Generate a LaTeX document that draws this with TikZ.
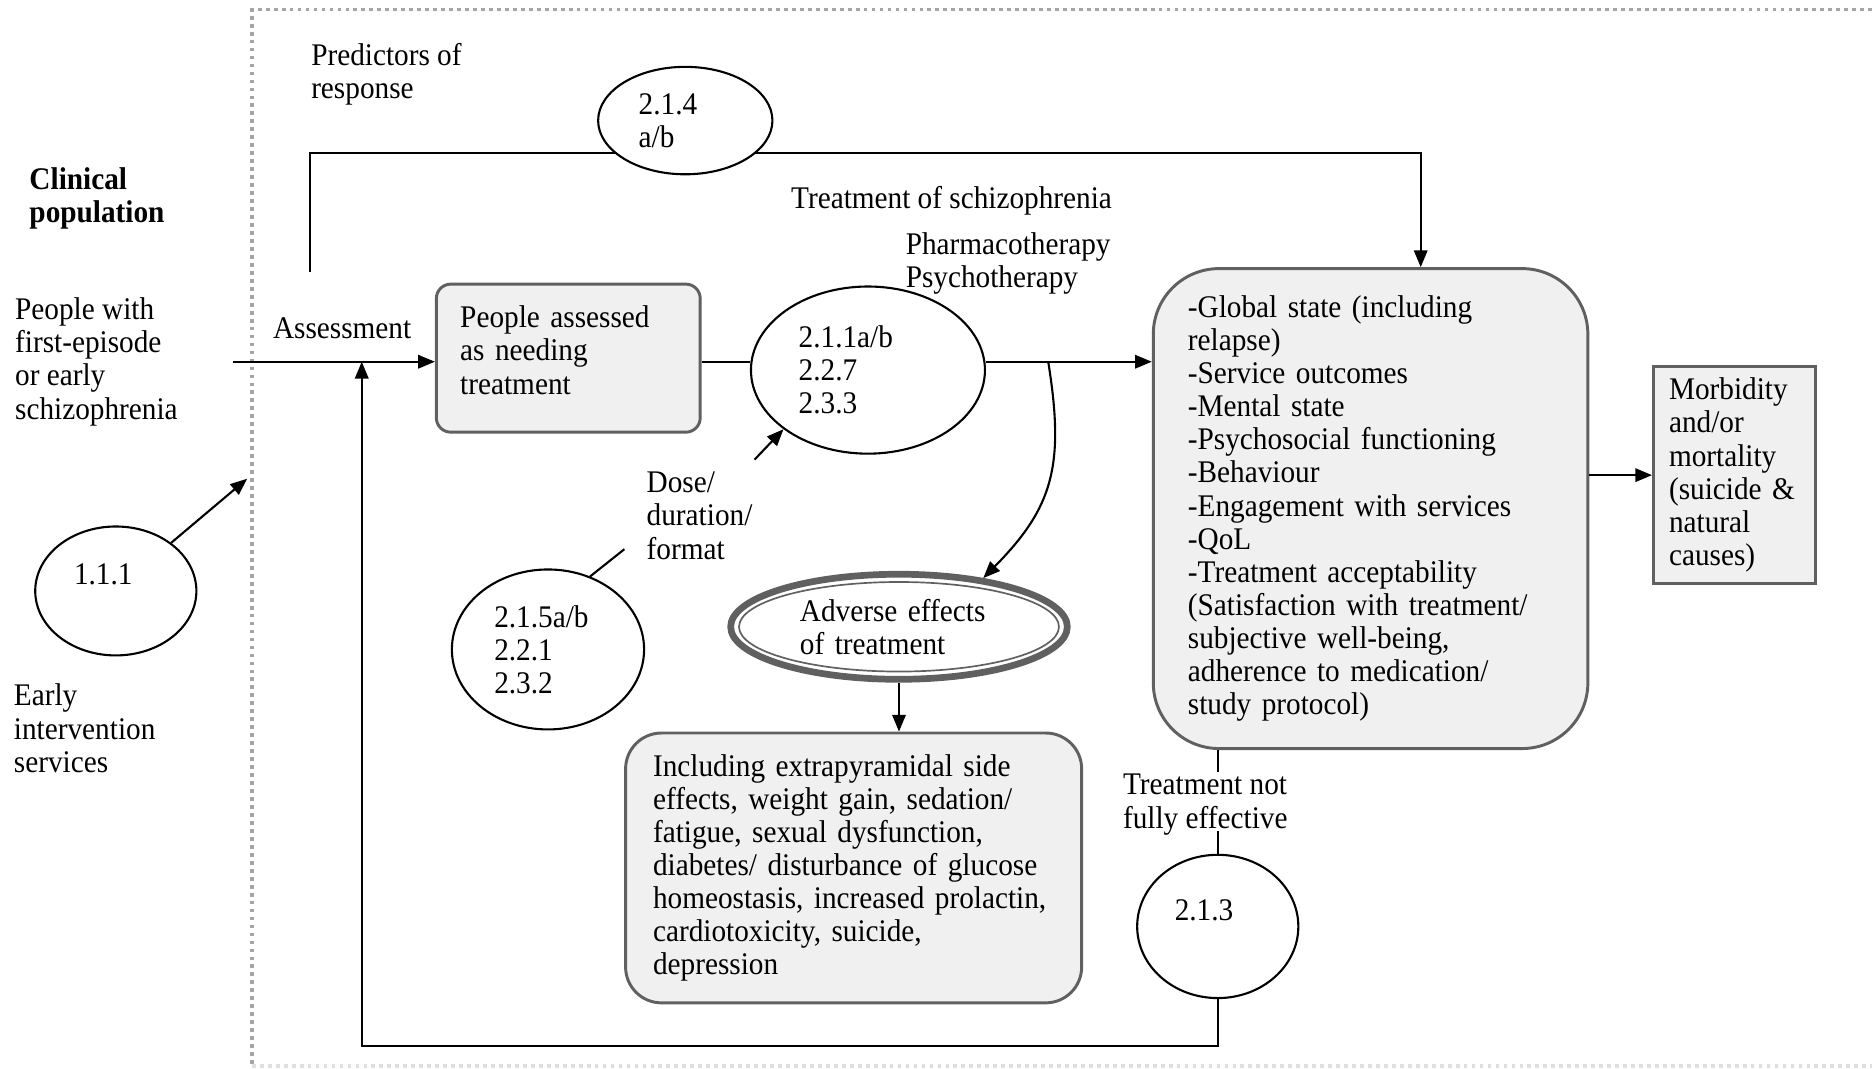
\documentclass[tikz,border=0pt]{standalone}
\usepackage{fontspec}
\setmainfont{Liberation Serif}[FakeStretch=0.93]
\usepackage{tikz}
\usetikzlibrary{shapes.geometric,arrows.meta}
\definecolor{boxfill}{RGB}{240,240,240}
\definecolor{boxline}{RGB}{96,96,96}
\definecolor{framegray}{RGB}{165,165,165}

\begin{document}
\begin{tikzpicture}[x=0.1mm,y=-0.1mm,font=\fontsize{7.5}{7.9}\selectfont]
\tikzstyle{every node}+=[inner sep=0pt]
\tikzstyle{txt}=[anchor=west,align=left]
\tikzstyle{refnum}=[draw=black,ellipse,fill=white,line width=0.5pt,align=left]
\tikzstyle{grbox}=[draw=boxline,fill=boxfill,rounded corners=1.2mm,line width=0.7pt,align=left]
\tikzstyle{arr}=[black,line width=0.5pt,-{Triangle[length=4pt,width=3.2pt]}]
\tikzstyle{ln}=[black,line width=0.5pt]
\useasboundingbox (0,0) rectangle (1568,895);
\draw [framegray,densely dotted,line width=0.9pt] (1568,8) -- (211,8) -- (211,893);
\draw [framegray!35,densely dotted,line width=0.9pt] (211,893) -- (1568,893);
\node [txt] (pred) at (260,62) {Predictors of\\response};
\node [txt,font=\fontsize{7.5}{7.9}\selectfont\bfseries] (clin) at (24,166) {Clinical\\population};
\node [txt] (people) at (12,303) {People with\\first-episode\\or early\\schizophrenia};
\node [txt] (assess) at (228,275) {Assessment};
\node [txt] (treat) at (662,168) {Treatment of schizophrenia};
\node [txt] (pharm) at (758,221) {Pharmacotherapy\\Psychotherapy};
\node [txt] (dose) at (541,432) {Dose/\\duration/\\format};
\node [txt] (early) at (11,610) {Early\\intervention\\services};
\node [txt] (notfull) at (940,674) {Treatment not\\fully effective};
\node [grbox,minimum width=22.1mm,minimum height=12.4mm,text width=18.1mm] (need) at (476,300) {People assessed\\as needing\\treatment\\[-4pt]\mbox{}};
\node [grbox,rounded corners=5.5mm,minimum width=36.4mm,minimum height=40.2mm,text width=30.6mm] (outc) at (1148,426) {-Global state (including\\relapse)\\-Service outcomes\\-Mental state\\-Psychosocial functioning\\-Behaviour\\-Engagement with services\\-QoL\\-Treatment acceptability\\(Satisfaction with treatment/\\subjective well-being,\\adherence to medication/\\study protocol)};
\node [grbox,rounded corners=0pt,minimum width=13.6mm,minimum height=18.2mm,text width=11mm] (morb) at (1453,398) {Morbidity\\and/or\\mortality\\(suicide \&\\natural\\causes)};
\node [grbox,rounded corners=3mm,minimum width=38.2mm,minimum height=22.6mm,text width=33.6mm] (incl) at (715,727) {Including extrapyramidal side\\effects, weight gain, sedation/\\fatigue, sexual dysfunction,\\diabetes/ disturbance of glucose\\homeostasis, increased prolactin,\\cardiotoxicity, suicide,\\depression};
\node [refnum,minimum width=19.6mm,minimum height=14mm,text width=11.6mm] (e211) at (727,310) {2.1.1a/b\\2.2.7\\2.3.3};
\node [refnum,minimum width=13.5mm,minimum height=10.8mm,text width=7mm] (e111) at (97,495) {1.1.1\\\mbox{}};
\node [refnum,minimum width=16.1mm,minimum height=13.4mm,text width=9mm] (e215) at (459,544) {2.1.5a/b\\2.2.1\\2.3.2};
\node [refnum,minimum width=13.5mm,minimum height=12mm,text width=7.2mm] (e213) at (1020,776) {2.1.3\\\mbox{}};
\node [ellipse,draw=boxline,line width=1.6pt,fill=white,minimum width=28.2mm,minimum height=8.8mm,text width=16.6mm,align=left] (adv) at (753,525) {Adverse effects\\of treatment};
\draw [boxline,line width=0.4pt] (adv.center) ellipse [x radius=134, y radius=37.5];
\coordinate (in) at (195,303);
\coordinate (jn) at (303,303);
\coordinate (pr) at (260,228);
\coordinate (tr) at (1190,128);
\coordinate (bt) at (303,876);
\coordinate (br) at (878,303);
\coordinate (d1) at (523,460);
\coordinate (d2) at (632,385);
\coordinate (ei) at (207,401);
\draw [arr] (in) -- (need.west |- in);
\draw [ln] (need.east |- in) -- (e211.west |- in);
\draw [arr] (e211.east |- in) -- (outc.west |- in);
\draw [arr] (br) .. controls (892,390) and (882,425) .. (adv.30);
\draw [arr] (adv.south) -- (incl.north -| adv.south);
\draw [arr] (outc.east |- morb) -- (morb.west);
\draw [ln] (outc.south -| e213) -- ++(0,18);
\draw [ln] (e213.north) -- ++(0,-19);
\draw [arr] (e213.south) |- (bt) -- (jn);
\draw [arr] (pr) |- (tr) -- (tr |- outc.north);
\draw [arr] (e111.41) -- (ei);
\draw [ln] (e215.60) -- (d1);
\draw [arr] (d2) -- (e211.215);
\node [refnum,minimum width=14.6mm,minimum height=9mm,text width=7.8mm] (e214) at (574,101) {2.1.4\\a/b};
\end{tikzpicture}
\end{document}
